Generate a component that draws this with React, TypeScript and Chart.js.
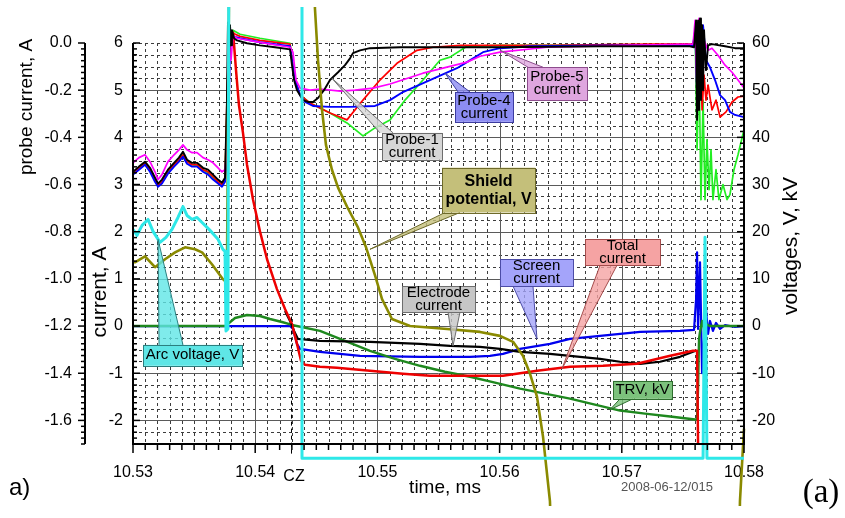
import React, { useEffect, useRef } from 'react';
import { Chart, registerables } from 'chart.js';

Chart.register(...registerables);

const FONT = "'Liberation Sans', Arial, Helvetica, sans-serif";
const SERIF = "'Liberation Serif', 'Times New Roman', serif";

// ---------- tick labels ----------
const TIME_TICKS = [10.53, 10.54, 10.55, 10.56, 10.57, 10.58];
const CURRENT_TICKS = [-2, -1, 0, 1, 2, 3, 4, 5, 6];
const PROBE_TICKS = [-1.6, -1.4, -1.2, -1.0, -0.8, -0.6, -0.4, -0.2, 0.0];
const VOLTAGE_TICKS = [-20, -10, 0, 10, 20, 30, 40, 50, 60];

// ---------- probe currents (A, probe axis) ----------
const PROBE_PRE_TIME = [10.53, 10.53049, 10.53098, 10.53139, 10.5318, 10.53205, 10.53237, 10.53286, 10.53336, 10.53376, 10.53409, 10.53442, 10.53483, 10.53524, 10.53573, 10.53614, 10.53655, 10.53696, 10.53728, 10.53753];

const PROBE1_PRE = [-0.546, -0.524, -0.503, -0.529, -0.571, -0.596, -0.579, -0.537, -0.508, -0.486, -0.461, -0.495, -0.508, -0.508, -0.529, -0.537, -0.558, -0.579, -0.592, -0.571];
const PROBE1_TIME = [10.53769, 10.53777, 10.53786, 10.53794, 10.53802, 10.5381, 10.53827, 10.53851, 10.53933, 10.54039, 10.54162, 10.54285, 10.54301, 10.54318, 10.54342, 10.54391, 10.54432, 10.54473, 10.54514, 10.54563, 10.54612, 10.54678, 10.54735, 10.54776, 10.548, 10.54858, 10.54939, 10.55185, 10.56003, 10.56822, 10.57558, 10.57591, 10.57608, 10.57616, 10.57624, 10.57632, 10.5764, 10.57648, 10.57657, 10.57665, 10.57673, 10.57689, 10.57706, 10.57738, 10.57845, 10.57926, 10.58];
const PROBE1 = [-0.242, 0.087, -0.073, 0.075, -0.01, 0.054, 0.02, 0.011, -0.001, -0.01, -0.018, -0.027, -0.094, -0.157, -0.2, -0.242, -0.25, -0.25, -0.233, -0.2, -0.157, -0.124, -0.094, -0.065, -0.043, -0.031, -0.022, -0.018, -0.018, -0.014, -0.014, -0.018, 0.096, -0.326, 0.096, -0.284, 0.104, -0.242, 0.075, -0.2, 0.054, -0.115, -0.01, -0.005, -0.014, -0.022, -0.022];

const PROBE2_PRE = [-0.554, -0.529, -0.508, -0.537, -0.579, -0.605, -0.588, -0.541, -0.516, -0.495, -0.474, -0.503, -0.516, -0.516, -0.537, -0.546, -0.567, -0.588, -0.6, -0.579];
const PROBE2_TIME = [10.53777, 10.53794, 10.53818, 10.53876, 10.54039, 10.54285, 10.54301, 10.54326, 10.54367, 10.54448, 10.5453, 10.54612, 10.54751, 10.54882, 10.55021, 10.5516, 10.55324, 10.55455, 10.55676, 10.56412, 10.57231, 10.57583, 10.57608, 10.57624, 10.5764, 10.57657, 10.57673, 10.57689, 10.57706, 10.57738, 10.57771, 10.57804, 10.57853, 10.57902, 10.57951, 10.58];
const PROBE2 = [-0.073, 0.032, 0.041, 0.028, 0.011, -0.005, -0.073, -0.157, -0.221, -0.254, -0.276, -0.297, -0.326, -0.242, -0.157, -0.086, -0.031, -0.018, -0.01, -0.01, -0.005, -0.005, 0.054, -0.221, 0.011, -0.284, -0.136, -0.242, -0.178, -0.284, -0.242, -0.314, -0.292, -0.25, -0.229, -0.225];

const PROBE3_PRE = [-0.55, -0.529, -0.512, -0.537, -0.579, -0.605, -0.592, -0.546, -0.516, -0.499, -0.474, -0.503, -0.516, -0.52, -0.537, -0.55, -0.571, -0.592, -0.605, -0.584];
const PROBE3_TIME = [10.53777, 10.53794, 10.53818, 10.53876, 10.54039, 10.54285, 10.54301, 10.54326, 10.54367, 10.54448, 10.5453, 10.54612, 10.54751, 10.54882, 10.5498, 10.55103, 10.55226, 10.55373, 10.55512, 10.55594, 10.55733, 10.56003, 10.56822, 10.57583, 10.576, 10.57616, 10.57632, 10.57648, 10.57665, 10.57681, 10.57697, 10.57714, 10.5773, 10.57746, 10.57771, 10.57795, 10.57828, 10.57861, 10.57885, 10.57918, 10.57951, 10.58];
const PROBE3 = [-0.115, 0.041, 0.054, 0.037, 0.02, -0.001, -0.073, -0.157, -0.221, -0.254, -0.276, -0.297, -0.339, -0.394, -0.36, -0.326, -0.242, -0.157, -0.073, -0.06, -0.014, -0.01, -0.01, -0.01, 0.054, -0.453, -0.073, -0.664, -0.242, -0.664, -0.41, -0.622, -0.453, -0.664, -0.537, -0.664, -0.6, -0.664, -0.643, -0.537, -0.474, -0.368];

const PROBE4_PRE = [-0.558, -0.537, -0.516, -0.546, -0.588, -0.609, -0.596, -0.554, -0.524, -0.503, -0.482, -0.512, -0.524, -0.524, -0.546, -0.558, -0.579, -0.596, -0.609, -0.588];
const PROBE4_TIME = [10.53777, 10.53786, 10.53794, 10.53818, 10.53876, 10.54039, 10.54285, 10.54301, 10.54326, 10.54367, 10.54408, 10.54473, 10.54612, 10.54776, 10.5498, 10.55103, 10.55209, 10.5543, 10.55651, 10.55733, 10.55864, 10.56003, 10.56249, 10.56822, 10.57583, 10.576, 10.57616, 10.57632, 10.57648, 10.57665, 10.57689, 10.57722, 10.57763, 10.57804, 10.57845, 10.57885, 10.57926, 10.58];
const PROBE4 = [-0.453, -0.242, 0.011, 0.028, 0.02, 0.003, -0.014, -0.073, -0.157, -0.221, -0.25, -0.267, -0.271, -0.271, -0.267, -0.242, -0.208, -0.157, -0.107, -0.081, -0.039, -0.022, -0.014, -0.01, -0.01, 0.054, -0.2, 0.096, -0.115, 0.075, -0.073, -0.103, -0.157, -0.221, -0.242, -0.292, -0.305, -0.314];

const PROBE5_PRE = [-0.508, -0.486, -0.474, -0.503, -0.546, -0.579, -0.558, -0.503, -0.474, -0.453, -0.432, -0.453, -0.465, -0.465, -0.486, -0.495, -0.508, -0.529, -0.546, -0.537];
const PROBE5_TIME = [10.53769, 10.53777, 10.53786, 10.53802, 10.53818, 10.53851, 10.54039, 10.54285, 10.54309, 10.54334, 10.54367, 10.54448, 10.5453, 10.54694, 10.54817, 10.54964, 10.55103, 10.55373, 10.55733, 10.5584, 10.56003, 10.56388, 10.57043, 10.57583, 10.576, 10.57616, 10.57632, 10.57648, 10.57673, 10.57706, 10.57738, 10.57787, 10.57845, 10.57902, 10.57951, 10.58];
const PROBE5 = [-0.453, -0.242, 0.054, -0.073, 0.032, 0.02, 0.003, -0.018, -0.039, -0.157, -0.191, -0.2, -0.195, -0.204, -0.2, -0.191, -0.174, -0.128, -0.081, -0.056, -0.039, -0.018, -0.01, -0.005, 0.096, -0.242, 0.104, -0.115, 0.011, -0.031, -0.022, -0.052, -0.094, -0.124, -0.157, -0.191];

// ---------- currents (A, current axis) ----------
const TOTAL_TIME = [10.53818, 10.53843, 10.53867, 10.539, 10.53933, 10.53982, 10.54039, 10.54097, 10.54178, 10.54244, 10.54301, 10.54342, 10.54375, 10.54408, 10.5453, 10.54669, 10.54939, 10.55209, 10.5543, 10.55758, 10.56028, 10.56306, 10.56576, 10.56846, 10.57124, 10.57396, 10.57583, 10.57616, 10.57624];
const TOTAL_CURRENT = [6.268, 5.424, 4.686, 4.095, 3.42, 2.682, 2.007, 1.416, 0.783, 0.361, 0.045, -0.377, -0.736, -0.821, -0.863, -0.884, -0.947, -1.01, -1.052, -1.052, -1.052, -0.947, -0.863, -0.842, -0.8, -0.631, -0.525, -0.525, -2.5];

const ELECTRODE_TIME = [10.54244, 10.54285, 10.54318, 10.5435, 10.5453, 10.54939, 10.55349, 10.55594, 10.5584, 10.56003, 10.56167, 10.56412, 10.56576, 10.56822, 10.56985, 10.5715, 10.57313, 10.57476, 10.57583, 10.57608];
const ELECTRODE_CURRENT = [0.319, 0.108, -0.103, -0.272, -0.314, -0.335, -0.378, -0.42, -0.441, -0.483, -0.546, -0.589, -0.631, -0.694, -0.757, -0.8, -0.757, -0.652, -0.546, -0.525];

const SCREEN_TIME = [10.53, 10.54285, 10.54309, 10.54342, 10.54367, 10.5453, 10.54858, 10.55349, 10.55758, 10.55921, 10.56028, 10.56167, 10.56412, 10.56576, 10.56822, 10.5715, 10.57476, 10.57591, 10.57608, 10.57616, 10.57624, 10.5764, 10.57657, 10.57673, 10.57689, 10.57706, 10.57722, 10.57746, 10.57771, 10.57804, 10.57845, 10.57926, 10.58];
const SCREEN_CURRENT = [0, 0, -0.061, -0.378, -0.483, -0.546, -0.631, -0.652, -0.652, -0.631, -0.589, -0.483, -0.378, -0.272, -0.209, -0.124, -0.103, -0.082, 0.572, 1.563, -0.061, 1.352, -1.0, -0.272, 0.361, -0.167, 0.108, -0.103, 0.065, -0.061, 0.02, -0.02, 0];

// ---------- voltages (V / kV, voltage axis) ----------
const TRV_TIME = [10.53, 10.53761, 10.53786, 10.53835, 10.53933, 10.54039, 10.54121, 10.54219, 10.54301, 10.5453, 10.54735, 10.54939, 10.55144, 10.55349, 10.55553, 10.55758, 10.55962, 10.56167, 10.56371, 10.56576, 10.5678, 10.56985, 10.5719, 10.57396, 10.576, 10.57616, 10.57624, 10.57632, 10.5764, 10.57657, 10.57673, 10.57689, 10.57722, 10.58];
const TRV = [0, 0, 0.65, 1.71, 2.34, 2.13, 1.5, 0.86, 0.23, -1.03, -3.14, -5.25, -6.94, -8.42, -9.68, -10.74, -12.0, -13.27, -14.32, -15.38, -16.65, -17.91, -18.55, -19.18, -19.81, -19.81, -13.27, -2.72, -1.24, 1.08, -0.61, 0.44, 0, 0];

const ARC_TIME = [10.53, 10.53033, 10.53074, 10.53123, 10.53164, 10.53221, 10.5327, 10.53319, 10.53368, 10.53409, 10.53442, 10.53483, 10.53524, 10.53565, 10.53606, 10.53646, 10.53696, 10.53736, 10.53753, 10.53761, 10.53777, 10.53786, 10.54383, 10.54383, 10.57665, 10.57681, 10.57697, 10.58];
const ARC_VOLTAGE = [20.49, 19.22, 21.33, 22.6, 20.07, 17.75, 18.8, 20.49, 23.02, 25.34, 23.44, 22.6, 23.02, 21.96, 20.91, 19.85, 18.38, 16.27, 15.84, -1.03, -0.61, 100, 100, -28.04, -28.04, 18.8, -28.04, -28.04];

const SHIELD_TIME = [10.53, 10.53016, 10.53098, 10.5318, 10.53262, 10.53344, 10.53426, 10.53507, 10.53565, 10.53646, 10.53736, 10.53753, 10.53769, 10.53794, 10.54464, 10.54489, 10.54514, 10.54547, 10.54579, 10.54628, 10.54678, 10.54751, 10.54841, 10.54907, 10.5498, 10.55038, 10.55119, 10.55267, 10.5557, 10.5584, 10.56003, 10.5611, 10.56191, 10.56249, 10.56306, 10.56355, 10.56412, 10.56494, 10.57926, 10.57967, 10.58];
const SHIELD_POTENTIAL = [13.73, 13.52, 14.79, 12.47, 14.16, 15.63, 16.69, 16.27, 15.63, 13.1, 9.94, 9.52, 12.05, 100, 100, 67.32, 56.35, 45.8, 38.4, 33.14, 29.35, 25.34, 20.91, 16.69, 10.78, 5.72, 1.5, 0.02, -0.61, -1.24, -2.08, -3.35, -6.31, -10.11, -14.96, -23.4, -37.11, -100, -100, -37.11, -21.75];

// ---------- markers ----------
const CURRENT_ZERO_TIME = 10.54293;

// callouts: box [t1, c1, t2, c2] and tip [t, c] in time / current-axis units
const CALLOUTS = [
  { lines: ['Arc voltage, V'], box: [10.53082, -0.399, 10.53892, -0.842], tip: [10.53205, 1.838], base: [10.53213, 10.53409], side: 'top', fill: '#5fe6e6', stroke: '#2b7f7f', bold: false },
  { lines: ['Probe-1', 'current'], box: [10.55038, 4.095, 10.55529, 3.525], tip: [10.54628, 5.252], base: [10.55021, 10.55128], side: 'top', fill: '#d6d6d6', stroke: '#6e6e6e', bold: false },
  { lines: ['Probe-4', 'current'], box: [10.55635, 4.962, 10.5611, 4.329], tip: [10.55553, 5.363], base: [10.5566, 10.55758], side: 'top', fill: '#8c8cf2', stroke: '#3c3ca0', bold: false },
  { lines: ['Probe-5', 'current'], box: [10.56224, 5.487, 10.56715, 4.791], tip: [10.56003, 5.846], base: [10.56232, 10.56355], side: 'top', fill: '#dfa6df', stroke: '#8c4c8c', bold: false },
  { lines: ['Shield', 'potential, V'], box: [10.55529, 3.357, 10.5629, 2.407], tip: [10.54939, 1.627], base: [10.55553, 10.55676], side: 'bottom', fill: '#c4bf7a', stroke: '#6e6a2a', bold: true },
  { lines: ['Electrode', 'current'], box: [10.55201, 0.846, 10.55799, 0.297], tip: [10.55619, -0.42], base: [10.55578, 10.55676], side: 'bottom', fill: '#c6c6c6', stroke: '#6e6e6e', bold: false },
  { lines: ['Screen', 'current'], box: [10.56003, 1.416, 10.56601, 0.846], tip: [10.56306, -0.272], base: [10.5611, 10.56273], side: 'bottom', fill: '#a4a4fa', stroke: '#4c4ca6', bold: false },
  { lines: ['Total', 'current'], box: [10.56699, 1.838, 10.57313, 1.289], tip: [10.56511, -0.905], base: [10.56822, 10.56961], side: 'bottom', fill: '#f5a3a3', stroke: '#a44c4c', bold: false },
  { lines: ['TRV, kV'], box: [10.56928, -1.163, 10.57411, -1.543], tip: [10.56903, -1.774], base: [10.56985, 10.5709], side: 'bottom', fill: '#7cc27c', stroke: '#2e6e2e', bold: false },
];

const zip = (t: number[], v: number[]) =>
  t.slice(0, Math.min(t.length, v.length)).map((x, i) => ({ x, y: v[i] }));

const PLOT_CLIP = { left: 0, top: 36, right: 3, bottom: 62 };

const line = (label: string, data: any[], axis: string, color: string, width: number) => ({
  label,
  data,
  xAxisID: 'x',
  yAxisID: axis,
  borderColor: color,
  backgroundColor: color,
  borderWidth: width,
  pointRadius: 0,
  pointHoverRadius: 0,
  tension: 0,
  fill: false,
  clip: PLOT_CLIP,
  borderJoinStyle: 'round',
});

function seg(ctx: CanvasRenderingContext2D, x1: number, y1: number, x2: number, y2: number) {
  ctx.beginPath();
  ctx.moveTo(x1, y1);
  ctx.lineTo(x2, y2);
  ctx.stroke();
}

const overlayPlugin = {
  id: 'overlay',
  beforeDatasetsDraw(chart: any) {
    const { ctx, chartArea: a, scales } = chart;
    const xs = scales.x;
    const ys = scales.y;
    ctx.save();
    ctx.lineWidth = 1;
    // minor dashed grid
    ctx.strokeStyle = '#3c3c3c';
    ctx.setLineDash([3, 3]);
    for (let i = 1; i < 50; i++) {
      if (i % 10 === 0) continue;
      const px = Math.round(xs.getPixelForValue(10.53 + i * 0.001)) + 0.5;
      seg(ctx, px, a.top, px, a.bottom);
    }
    for (let i = 1; i <= 34; i++) {
      const v = -2.5 + i * 0.25;
      if (Number.isInteger(v) && v < 6) continue;
      const py = Math.round(ys.getPixelForValue(v)) + 0.5;
      seg(ctx, a.left, py, a.right, py);
    }
    // major solid grid
    ctx.setLineDash([]);
    ctx.strokeStyle = '#5a5a5a';
    for (const t of [10.54, 10.55, 10.56, 10.57]) {
      const px = Math.round(xs.getPixelForValue(t)) + 0.5;
      seg(ctx, px, a.top, px, a.bottom);
    }
    for (let v = -2; v <= 5; v++) {
      const py = Math.round(ys.getPixelForValue(v)) + 0.5;
      seg(ctx, a.left, py, a.right, py);
    }
    ctx.restore();
  },
  afterDatasetsDraw(chart: any) {
    const { ctx, chartArea: a, scales } = chart;
    const xs = scales.x;
    const ys = scales.y;
    const yp = scales.yP;
    const yv = scales.yV;
    ctx.save();
    ctx.setLineDash([]);
    ctx.strokeStyle = '#000';

    // CZ marker
    ctx.lineWidth = 1;
    ctx.setLineDash([4, 3]);
    const cz = Math.round(xs.getPixelForValue(CURRENT_ZERO_TIME)) + 0.5;
    seg(ctx, cz, ys.getPixelForValue(0.2), cz, a.bottom + 11);
    ctx.setLineDash([]);

    // axis lines
    ctx.lineWidth = 2;
    seg(ctx, a.left, a.top, a.left, a.bottom + 1);
    seg(ctx, a.right, a.top, a.right, a.bottom + 1);
    seg(ctx, a.left - 1, a.bottom, a.right + 1, a.bottom);
    const px = yp.right;
    seg(ctx, px, yp.getPixelForValue(0), px, yp.getPixelForValue(-1.7));

    // tick marks
    ctx.lineWidth = 1.5;
    for (let i = 0; i <= 50; i++) {
      const x = xs.getPixelForValue(10.53 + i * 0.001);
      seg(ctx, x, a.bottom, x, a.bottom + (i % 10 === 0 ? 9 : 6));
    }
    for (let i = 0; i <= 68; i++) {
      const v = -2.5 + i * 0.125;
      const y = ys.getPixelForValue(v);
      seg(ctx, a.left, y, a.left + (Number.isInteger(v) ? 7 : 4), y);
    }
    for (let i = 0; i <= 68; i++) {
      const v = -i * 0.025;
      const y = yp.getPixelForValue(v);
      const major = i % 8 === 0;
      seg(ctx, px, y, px - (major ? 7 : 4), y);
    }
    for (let i = 0; i <= 68; i++) {
      const v = -25 + i * 1.25;
      const y = yv.getPixelForValue(v);
      const major = i % 8 === 4;
      seg(ctx, a.right, y, a.right - (major ? 7 : 4), y);
    }

    // callouts
    for (const c of CALLOUTS) {
      const L = xs.getPixelForValue(c.box[0]);
      const T = ys.getPixelForValue(c.box[1]);
      const R = xs.getPixelForValue(c.box[2]);
      const B = ys.getPixelForValue(c.box[3]);
      const tx = xs.getPixelForValue(c.tip[0]);
      const ty = ys.getPixelForValue(c.tip[1]);
      const b1 = xs.getPixelForValue(c.base[0]);
      const b2 = xs.getPixelForValue(c.base[1]);
      const by = c.side === 'top' ? T : B;
      ctx.globalAlpha = 0.8;
      ctx.fillStyle = c.fill;
      ctx.beginPath();
      ctx.moveTo(b1, by);
      ctx.lineTo(tx, ty);
      ctx.lineTo(b2, by);
      ctx.closePath();
      ctx.fill();
      ctx.globalAlpha = 1;
      ctx.lineWidth = 1;
      ctx.strokeStyle = c.stroke;
      ctx.beginPath();
      ctx.moveTo(b1, by);
      ctx.lineTo(tx, ty);
      ctx.lineTo(b2, by);
      ctx.stroke();
      ctx.fillStyle = c.fill;
      ctx.fillRect(L, T, R - L, B - T);
      ctx.strokeRect(Math.round(L) + 0.5, Math.round(T) + 0.5, Math.round(R - L), Math.round(B - T));
      ctx.fillStyle = '#000';
      ctx.textAlign = 'center';
      ctx.textBaseline = 'middle';
      ctx.font = c.bold ? `bold 16px ${FONT}` : `15px ${FONT}`;
      const cx = (L + R) / 2;
      const cy = (T + B) / 2;
      const lh = c.bold ? 18 : 13;
      c.lines.forEach((s, i) => {
        ctx.fillText(s, cx, cy + (i - (c.lines.length - 1) / 2) * lh);
      });
    }
    ctx.restore();
  },
  afterDraw(chart: any) {
    const { ctx } = chart;
    ctx.save();
    ctx.fillStyle = '#000';
    ctx.textAlign = 'center';
    ctx.textBaseline = 'middle';
    const vtext = (s: string, x: number, y: number, font: string) => {
      ctx.save();
      ctx.translate(x, y);
      ctx.rotate(-Math.PI / 2);
      ctx.font = font;
      ctx.fillText(s, 0, 0);
      ctx.restore();
    };
    vtext('probe current, A', 27, 107, `19px ${FONT}`);
    vtext('current, A', 100, 292, `21px ${FONT}`);
    vtext('voltages, V, kV', 791, 246, `21px ${FONT}`);
    ctx.font = `19px ${FONT}`;
    ctx.fillText('time, ms', 445, 488);
    ctx.font = `16px ${FONT}`;
    ctx.fillText('CZ', 294, 477);
    ctx.font = `13px ${FONT}`;
    ctx.fillStyle = '#555';
    ctx.fillText('2008-06-12/015', 667, 487);
    ctx.fillStyle = '#000';
    ctx.textAlign = 'left';
    ctx.font = `24px ${FONT}`;
    ctx.fillText('a)', 9, 488);
    ctx.textAlign = 'center';
    ctx.font = `33px ${SERIF}`;
    ctx.fillText('(a)', 821, 493);
    ctx.restore();
  },
};

export default function App() {
  const ref = useRef<HTMLCanvasElement>(null);
  useEffect(() => {
    if (!ref.current) return;
    const probe = (pre: number[], t: number[], v: number[]) => zip([...PROBE_PRE_TIME, ...t], [...pre, ...v]);
    const chart = new Chart(ref.current, {
      type: 'line',
      data: {
        datasets: [
          line('Arc voltage, V', zip(ARC_TIME, ARC_VOLTAGE), 'yV', '#2ee8e8', 3),
          line('Shield potential, V', zip(SHIELD_TIME, SHIELD_POTENTIAL), 'yV', '#8a8a00', 2.6),
          line('Probe-1 current', probe(PROBE1_PRE, PROBE1_TIME, PROBE1), 'yP', '#000000', 1.9),
          line('Probe-5 current', probe(PROBE5_PRE, PROBE5_TIME, PROBE5), 'yP', '#ff00ff', 1.7),
          line('Probe-4 current', probe(PROBE4_PRE, PROBE4_TIME, PROBE4), 'yP', '#0000ff', 1.9),
          line('Probe-2 current', probe(PROBE2_PRE, PROBE2_TIME, PROBE2), 'yP', '#ff0000', 1.7),
          line('Probe-3 current', probe(PROBE3_PRE, PROBE3_TIME, PROBE3), 'yP', '#22ee22', 1.7),
          line('Total current', zip(TOTAL_TIME, TOTAL_CURRENT), 'y', '#ee0000', 2.5),
          line('Electrode current', zip(ELECTRODE_TIME, ELECTRODE_CURRENT), 'y', '#000000', 2.2),
          line('TRV, kV', zip(TRV_TIME, TRV), 'yV', '#1e881e', 2.4),
          line('Screen current', zip(SCREEN_TIME, SCREEN_CURRENT), 'y', '#0000ee', 2.2),
        ],
      },
      options: {
        responsive: false,
        maintainAspectRatio: false,
        animation: false,
        devicePixelRatio: 1,
        events: [],
        layout: { padding: { top: 43, left: 0, right: 0, bottom: 0 } },
        plugins: { legend: { display: false }, title: { display: false }, tooltip: { enabled: false } },
        scales: {
          x: {
            type: 'linear',
            position: 'bottom',
            min: 10.53,
            max: 10.58,
            afterBuildTicks: (s: any) => { s.ticks = TIME_TICKS.map((value) => ({ value })); },
            afterFit: (s: any) => { s.height = 74; },
            ticks: { autoSkip: false, maxRotation: 0, padding: 19, color: '#000', font: { size: 16, family: FONT }, callback: (v: any) => Number(v).toFixed(2) },
            grid: { display: false, drawTicks: false },
            border: { display: false },
          },
          y: {
            type: 'linear',
            position: 'left',
            weight: 0,
            min: -2.5,
            max: 6,
            afterBuildTicks: (s: any) => { s.ticks = CURRENT_TICKS.map((value) => ({ value })); },
            afterFit: (s: any) => { s.width = 48; },
            ticks: { autoSkip: false, padding: 10, color: '#000', font: { size: 16, family: FONT }, callback: (v: any) => String(Math.round(Number(v))) },
            grid: { display: false, drawTicks: false },
            border: { display: false },
          },
          yP: {
            type: 'linear',
            position: 'left',
            weight: 1,
            min: -1.7,
            max: 0,
            afterBuildTicks: (s: any) => { s.ticks = PROBE_TICKS.map((value) => ({ value })); },
            afterFit: (s: any) => { s.width = 85; },
            ticks: { autoSkip: false, padding: 13, color: '#000', font: { size: 16, family: FONT }, callback: (v: any) => Number(v).toFixed(1) },
            grid: { display: false, drawTicks: false },
            border: { display: false },
          },
          yV: {
            type: 'linear',
            position: 'right',
            min: -25,
            max: 60,
            afterBuildTicks: (s: any) => { s.ticks = VOLTAGE_TICKS.map((value) => ({ value })); },
            afterFit: (s: any) => { s.width = 101; },
            ticks: { autoSkip: false, padding: 8, color: '#000', font: { size: 16, family: FONT }, callback: (v: any) => String(Math.round(Number(v))) },
            grid: { display: false, drawTicks: false },
            border: { display: false },
          },
        },
      } as any,
      plugins: [overlayPlugin as any],
    });
    return () => chart.destroy();
  }, []);
  return (
    <div style={{ position: 'fixed', left: 0, top: 0, width: 845, height: 518, background: '#fff' }}>
      <canvas ref={ref} width={845} height={518} style={{ display: 'block', width: 845, height: 518 }} />
    </div>
  );
}
